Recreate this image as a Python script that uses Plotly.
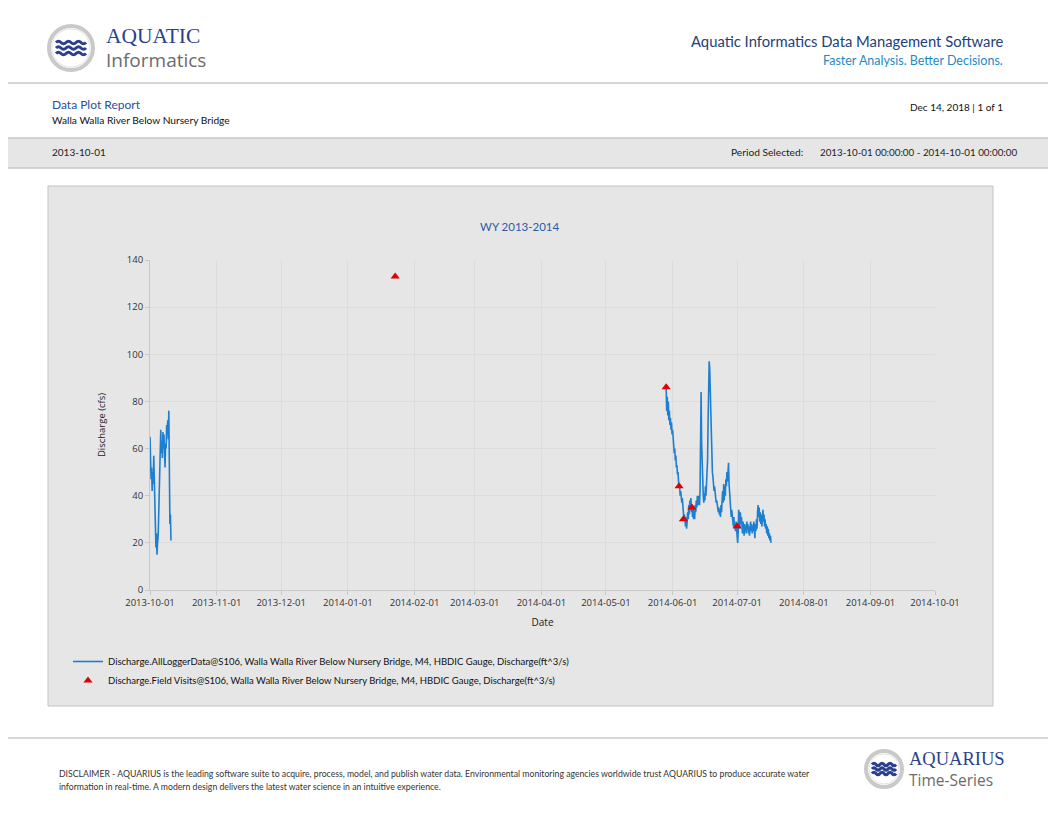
import pandas as pd
import plotly.graph_objects as go

# The page body keeps its default 8px margin, so the figure is drawn 8px in
PAGE_OFFSET = 8
FIG_W = 1056 - PAGE_OFFSET
FIG_H = 816 - PAGE_OFFSET

# Logger data, first stretch (Oct 2013), one value every 6 hours
logger_a_start = "2013-10-01 00:00"
logger_a_values = [
    65, 58, 47, 52, 42, 50, 45, 57, 48, 35, 22, 18,
    24, 15, 20, 22, 30, 42, 55, 62, 68, 58, 63, 56,
    67, 60, 66, 58, 52, 62, 60, 70, 66, 72, 64, 76,
    50, 28, 32, 21,
]

# Logger data, second stretch (May - Jul 2014), one value every 6 hours
logger_b_start = "2014-05-29 00:00"
logger_b_values = [
    86, 76, 82, 74, 80, 72, 76, 70, 73, 68, 71, 66,
    68, 62, 64, 58, 60, 55, 57, 52, 53, 49, 50, 46,
    44, 45, 40, 42, 40, 37, 39, 34, 33, 30, 32, 28,
    27, 31, 26, 29, 33, 30, 36, 32, 38, 34, 39, 33,
    36, 31, 35, 30, 34, 30, 36, 33, 38, 35, 40, 36,
    37, 40, 36, 42, 65, 84, 62, 52, 46, 40, 37, 41,
    38, 44, 40, 47, 45, 55, 72, 90, 97, 94, 85, 72,
    62, 55, 50, 48, 46, 42, 44, 40, 41, 37, 38, 35,
    36, 33, 35, 32, 34, 31, 36, 33, 38, 42, 37, 45,
    38, 44, 40, 47, 44, 50, 46, 52, 54, 45, 40, 36,
    35, 31, 34, 30, 30, 27, 31, 26, 28, 25, 29, 26,
    27, 20, 25, 34, 30, 26, 33, 28, 31, 27, 24, 29,
    26, 23, 28, 25, 27, 24, 29, 26, 28, 24, 27, 23,
    26, 29, 25, 28, 24, 27, 25, 29, 26, 22, 28, 25,
    30, 26, 33, 36, 31, 35, 29, 33, 28, 32, 27, 30,
    34, 29, 32, 27, 30, 26, 28, 24, 27, 23, 26, 22,
    24, 21, 23, 20,
]

# Field visit measurements
visit_dates = ["2014-01-23", "2014-05-29", "2014-06-04", "2014-06-06", "2014-06-10", "2014-07-01"]
visit_values = [133, 86, 44, 30, 35, 27]

x_ticks = pd.date_range("2013-10-01", "2014-10-01", freq="MS")
y_ticks = [0, 20, 40, 60, 80, 100, 120, 140]

LOGGER_NAME = "Discharge.AllLoggerData@S106, Walla Walla River Below Nursery Bridge, M4, HBDIC Gauge, Discharge(ft^3/s)"
VISIT_NAME = "Discharge.Field Visits@S106, Walla Walla River Below Nursery Bridge, M4, HBDIC Gauge, Discharge(ft^3/s)"

NAVY = "#2b3f8e"
LABEL_FONT = "Lato, 'Liberation Sans', sans-serif"
TICK_FONT = "'Open Sans', 'DejaVu Sans', sans-serif"


def px(x):
    """Page pixel x -> paper fraction."""
    return (x - PAGE_OFFSET) / FIG_W


def py(y):
    """Page pixel y (from top) -> paper fraction."""
    return 1 - (y - PAGE_OFFSET) / FIG_H


def wave_path(x0, x1, yc, amp, periods):
    """SVG path (paper coords) for a little wavy line used in the logos."""
    step = (x1 - x0) / (periods * 2)
    d = f"M {px(x0)},{py(yc)}"
    x = x0
    sign = -1
    for _ in range(periods * 2):
        cx = x + step / 2
        d += f" Q {px(cx)},{py(yc + sign * amp * 2)} {px(x + step)},{py(yc)}"
        x += step
        sign = -sign
    return d


def logo_shapes(cx, cy, r, wave_w, gap):
    """Grey ring with three navy waves."""
    shapes = [
        dict(type="circle", xref="paper", yref="paper",
             x0=px(cx - r), x1=px(cx + r), y0=py(cy + r), y1=py(cy - r),
             line=dict(color="#c9c9c9", width=4), fillcolor="white"),
        dict(type="circle", xref="paper", yref="paper",
             x0=px(cx - r + 3), x1=px(cx + r - 3), y0=py(cy + r - 3), y1=py(cy - r + 3),
             line=dict(color="#e4e4e4", width=1), fillcolor="white"),
    ]
    for k in (-1, 0, 1):
        shapes.append(dict(
            type="path", xref="paper", yref="paper",
            path=wave_path(cx - wave_w / 2, cx + wave_w / 2, cy + k * gap, 1.3, 3),
            line=dict(color=NAVY, width=3),
        ))
    return shapes


def text(x, y, s, size, color, anchor="left", family=LABEL_FONT):
    return dict(xref="paper", yref="paper", x=px(x), y=py(y), text=s,
                showarrow=False, xanchor=anchor, yanchor="middle",
                font=dict(family=family, size=size, color=color))


def build_figure():
    t_a = pd.date_range(logger_a_start, periods=len(logger_a_values), freq="6h")
    t_b = pd.date_range(logger_b_start, periods=len(logger_b_values), freq="6h")
    times = list(t_a) + [None] + list(t_b)
    values = logger_a_values + [None] + logger_b_values

    fig = go.Figure()
    fig.add_trace(go.Scatter(
        x=times, y=values, mode="lines", name=LOGGER_NAME,
        line=dict(color="#1e7fd0", width=1.6), connectgaps=False,
    ))
    fig.add_trace(go.Scatter(
        x=visit_dates, y=visit_values, mode="markers", name=VISIT_NAME,
        marker=dict(symbol="triangle-up", size=8, color="#e00000"),
    ))

    shapes = [
        # header / footer rules and the grey band
        dict(type="line", xref="paper", yref="paper", x0=-0.01, x1=1.01, y0=py(83), y1=py(83),
             line=dict(color="#c8c8c8", width=1.5)),
        dict(type="rect", xref="paper", yref="paper", x0=-0.01, x1=1.01, y0=py(168), y1=py(138),
             fillcolor="#e6e6e6", line=dict(color="#c8c8c8", width=1.5), layer="below"),
        dict(type="line", xref="paper", yref="paper", x0=-0.01, x1=1.01, y0=py(738), y1=py(738),
             line=dict(color="#c8c8c8", width=1.5)),
        # chart panel
        dict(type="rect", xref="paper", yref="paper", x0=px(48), x1=px(993), y0=py(706), y1=py(186),
             fillcolor="#e6e6e6", line=dict(color="#c4c4c4", width=1), layer="below"),
    ]
    shapes += logo_shapes(71, 48, 22, 30, 5.5)
    shapes += logo_shapes(884, 769, 18, 24, 4.5)

    annotations = [
        text(104, 36, "AQUATIC", 21.5, NAVY, family="'Liberation Serif', 'DejaVu Serif', serif"),
        text(104, 60, "Informatics", 19, "#6b6b6b", family="'Open Sans', sans-serif"),
        text(1005, 41, "Aquatic Informatics Data Management Software", 14.8, "#23407a", "right"),
        text(1005, 60, "Faster Analysis. Better Decisions.", 12.5, "#1e8bc3", "right"),
        text(50, 104, "Data Plot Report", 12, "#2a4f9a"),
        text(50, 120, "Walla Walla River Below Nursery Bridge", 10.2, "#111111"),
        text(1005, 107, "Dec 14, 2018 | 1 of 1", 10, "#111111", "right"),
        text(50, 152, "2013-10-01", 10, "#222222"),
        text(729, 152, "Period Selected:", 10.2, "#222222"),
        text(818, 152, "2013-10-01 00:00:00 - 2014-10-01 00:00:00", 9.8, "#222222"),
        text(520, 226, "WY 2013-2014", 11.5, "#2d5aa8", "center"),
        text(57, 773, "DISCLAIMER - AQUARIUS is the leading software suite to acquire, process, model, "
             "and publish water data. Environmental monitoring agencies worldwide trust AQUARIUS "
             "to produce accurate water", 8.7, "#333333"),
        text(57, 786, "information in real-time. A modern design delivers the latest water science "
             "in an intuitive experience.", 8.7, "#333333"),
        text(907, 759, "AQUARIUS", 18.5, NAVY, family="'Liberation Serif', 'DejaVu Serif', serif"),
        text(907, 780, "Time-Series", 15.5, "#6b6b6b", family="'Open Sans', sans-serif"),
    ]

    fig.update_layout(
        width=FIG_W,
        height=FIG_H,
        margin=dict(l=0, r=0, t=0, b=0, autoexpand=False),
        paper_bgcolor="white",
        plot_bgcolor="white",
        shapes=shapes,
        annotations=annotations,
        showlegend=True,
        legend=dict(
            x=px(68), y=py(647), xanchor="left", yanchor="top",
            bgcolor="rgba(0,0,0,0)", tracegroupgap=0,
            font=dict(family=LABEL_FONT, size=9.5, color="#111111"),
        ),
        xaxis=dict(
            domain=[px(150), px(935)],
            range=["2013-10-01", "2014-10-01"],
            tickvals=x_ticks, tickformat="%Y-%m-%d",
            showgrid=True, gridcolor="#dcdcdc", gridwidth=1,
            showline=True, linecolor="#c8c8c8",
            ticks="outside", ticklen=4, tickcolor="#c8c8c8",
            tickfont=dict(family=TICK_FONT, size=9.5, color="#333333"),
            title=dict(text="Date", standoff=10,
                       font=dict(family=TICK_FONT, size=10, color="#222222")),
            zeroline=False, automargin=False,
        ),
        yaxis=dict(
            domain=[py(590), py(260)],
            range=[0, 140],
            tickvals=y_ticks,
            showgrid=True, gridcolor="#dcdcdc", gridwidth=1,
            showline=True, linecolor="#c8c8c8",
            ticks="outside", ticklen=4, tickcolor="#c8c8c8",
            tickfont=dict(family=TICK_FONT, size=9.5, color="#333333"),
            title=dict(text="Discharge (cfs)", standoff=19,
                       font=dict(family=TICK_FONT, size=9.5, color="#222222")),
            zeroline=False, automargin=False,
        ),
    )
    return fig


if __name__ == "__main__":
    fig = build_figure()
    fig.write_html("out.html")
